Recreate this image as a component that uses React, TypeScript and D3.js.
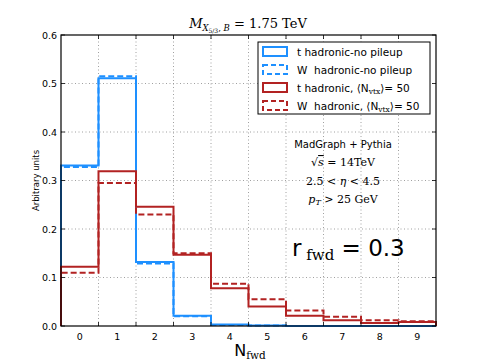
import React, { useEffect, useRef } from "react";
import * as d3 from "d3";

// bins 0..9 (N_fwd)
const bins = [0, 1, 2, 3, 4, 5, 6, 7, 8, 9];
const tNoPileup = [0.331, 0.511, 0.132, 0.021, 0.003, 0.001, 0.0, 0.0, 0.0, 0.0];
const wNoPileup = [0.328, 0.515, 0.129, 0.02, 0.002, 0.001, 0.0, 0.0, 0.0, 0.0];
const tPileup = [0.122, 0.319, 0.246, 0.147, 0.078, 0.04, 0.021, 0.012, 0.006, 0.008];
const wPileup = [0.11, 0.295, 0.23, 0.15, 0.087, 0.055, 0.032, 0.019, 0.012, 0.01];
const yTicks = [0.0, 0.1, 0.2, 0.3, 0.4, 0.5, 0.6];
const legendLabels = [
  "t hadronic-no pileup",
  "W\u00A0 hadronic-no pileup",
  "t hadronic, ",
  "W\u00A0 hadronic, ",
];

const BLUE = "#1e90ff";
const RED = "#b22222";

const App = () => {
  const ref = useRef<SVGSVGElement | null>(null);
  const width = 485;
  const height = 363;
  const margin = { top: 35, right: 49, bottom: 37, left: 61 };

  useEffect(() => {
    drawGraph();
  });

  const drawGraph = () => {
    const svg = d3.select(ref.current);
    svg.selectAll("*").remove();

    const x = d3.scaleLinear()
      .domain([-0.5, 9.5])
      .range([margin.left, width - margin.right]);
    const y = d3.scaleLinear()
      .domain([0, 0.6])
      .range([height - margin.bottom, margin.top]);

    const font = "'DejaVu Sans', sans-serif";
    const serif = "'DejaVu Serif', serif";

    // grid
    const grid = svg.append("g");
    bins.slice(0, -1).forEach(b => {
      grid.append("line")
        .attr("x1", x(b + 0.5)).attr("x2", x(b + 0.5))
        .attr("y1", y(0)).attr("y2", y(0.6))
        .attr("stroke", "#888").attr("stroke-width", 0.8)
        .attr("stroke-dasharray", "1,2.5");
    });
    yTicks.slice(1, -1).forEach(t => {
      grid.append("line")
        .attr("x1", x(-0.5)).attr("x2", x(9.5))
        .attr("y1", y(t)).attr("y2", y(t))
        .attr("stroke", "#888").attr("stroke-width", 0.8)
        .attr("stroke-dasharray", "1,2.5");
    });

    // step histograms
    const line = d3.line<[number, number]>()
      .x(d => x(d[0]))
      .y(d => y(d[1]));
    const stepPoints = (vals: number[]) => {
      const pts: [number, number][] = [[-0.5, 0]];
      vals.forEach((v, i) => {
        pts.push([bins[i] - 0.5, v]);
        pts.push([bins[i] + 0.5, v]);
      });
      pts.push([9.5, 0]);
      return pts;
    };
    const series = [
      { vals: tNoPileup, color: BLUE, dash: null },
      { vals: wNoPileup, color: BLUE, dash: "6,3" },
      { vals: tPileup, color: RED, dash: null },
      { vals: wPileup, color: RED, dash: "6,3" },
    ];
    series.forEach(s => {
      svg.append("path")
        .attr("d", line(stepPoints(s.vals)))
        .attr("fill", "none")
        .attr("stroke", s.color)
        .attr("stroke-width", 2)
        .attr("stroke-dasharray", s.dash);
    });

    // frame
    svg.append("rect")
      .attr("x", x(-0.5)).attr("y", y(0.6))
      .attr("width", x(9.5) - x(-0.5))
      .attr("height", y(0) - y(0.6))
      .attr("fill", "none").attr("stroke", "black").attr("stroke-width", 1.2);

    // ticks
    const ticks = svg.append("g").attr("stroke", "black").attr("stroke-width", 0.8);
    yTicks.forEach(t => {
      ticks.append("line").attr("x1", x(-0.5)).attr("x2", x(-0.5) + 4).attr("y1", y(t)).attr("y2", y(t));
      ticks.append("line").attr("x1", x(9.5)).attr("x2", x(9.5) - 4).attr("y1", y(t)).attr("y2", y(t));
    });
    bins.slice(0, -1).forEach(b => {
      ticks.append("line").attr("x1", x(b + 0.5)).attr("x2", x(b + 0.5)).attr("y1", y(0)).attr("y2", y(0) - 4);
      ticks.append("line").attr("x1", x(b + 0.5)).attr("x2", x(b + 0.5)).attr("y1", y(0.6)).attr("y2", y(0.6) + 4);
    });

    // tick labels
    yTicks.forEach(t => {
      svg.append("text")
        .attr("x", x(-0.5) - 4).attr("y", y(t) + 3.5)
        .attr("text-anchor", "end")
        .attr("font-family", font).attr("font-size", 9.5)
        .text(t.toFixed(1));
    });
    bins.forEach(b => {
      svg.append("text")
        .attr("x", x(b)).attr("y", y(0) + 14)
        .attr("text-anchor", "middle")
        .attr("font-family", font).attr("font-size", 9.5)
        .text(b);
    });

    // axis labels
    svg.append("text")
      .attr("transform", `translate(39,${(y(0) + y(0.6)) / 2}) rotate(-90)`)
      .attr("text-anchor", "middle")
      .attr("font-family", font).attr("font-size", 8.5)
      .text("Arbitrary units");

    const xl = svg.append("text")
      .attr("x", 250).attr("y", 356)
      .attr("text-anchor", "middle");
    xl.append("tspan").attr("font-family", font).attr("font-size", 16).text("N");
    xl.append("tspan").attr("font-family", serif).attr("font-size", 10.5).attr("dy", 3).text("fwd");

    // title
    const title = svg.append("text")
      .attr("x", 248).attr("y", 28)
      .attr("text-anchor", "middle")
      .attr("font-family", serif).attr("font-size", 13);
    title.append("tspan").attr("font-style", "italic").text("M");
    title.append("tspan").attr("font-size", 8.5).attr("dy", 3).attr("font-style", "italic").text("X");
    title.append("tspan").attr("font-size", 6).attr("dy", 2).text("5/3");
    title.append("tspan").attr("font-size", 8.5).attr("dy", -2).text(",\u00A0");
    title.append("tspan").attr("font-size", 8.5).attr("font-style", "italic").text("B");
    title.append("tspan").attr("dy", -3).text("\u00A0= 1.75 TeV");

    // legend
    const lg = svg.append("g");
    lg.append("rect")
      .attr("x", 258).attr("y", 42).attr("width", 172).attr("height", 72)
      .attr("fill", "white").attr("stroke", "black").attr("stroke-width", 1);
    series.forEach((s, i) => {
      const yy = 51.5 + i * 18;
      lg.append("rect")
        .attr("x", 263).attr("y", yy - 4.5).attr("width", 24).attr("height", 9)
        .attr("fill", "none").attr("stroke", s.color).attr("stroke-width", 2)
        .attr("stroke-dasharray", s.dash ? "5,3" : null);
      const t = lg.append("text")
        .attr("x", 297).attr("y", yy + 4)
        .attr("font-family", font).attr("font-size", 10.5)
        .text(legendLabels[i]);
      if (i >= 2) {
        t.append("tspan").text("\u27E8N");
        t.append("tspan").attr("font-family", serif).attr("font-size", 7.5).attr("dy", 2).text("vtx");
        t.append("tspan").attr("dy", -2).text("\u27E9= 50");
      }
    });

    // annotations
    const cx = 343;
    svg.append("text")
      .attr("x", cx).attr("y", 148).attr("text-anchor", "middle")
      .attr("font-family", font).attr("font-size", 10)
      .text("MadGraph + Pythia");
    const s1 = svg.append("text")
      .attr("x", cx).attr("y", 166).attr("text-anchor", "middle")
      .attr("font-family", serif).attr("font-size", 11);
    s1.append("tspan").text("\u221A");
    s1.append("tspan").attr("font-style", "italic").attr("text-decoration", "overline").text("s");
    s1.append("tspan").text("\u00A0= 14TeV");
    const s2 = svg.append("text")
      .attr("x", cx).attr("y", 185).attr("text-anchor", "middle")
      .attr("font-family", serif).attr("font-size", 11);
    s2.append("tspan").text("2.5 <\u00A0");
    s2.append("tspan").attr("font-style", "italic").text("\u03B7");
    s2.append("tspan").text("\u00A0< 4.5");
    const s3 = svg.append("text")
      .attr("x", cx).attr("y", 203).attr("text-anchor", "middle")
      .attr("font-family", serif).attr("font-size", 11);
    s3.append("tspan").attr("font-style", "italic").text("p");
    s3.append("tspan").attr("font-style", "italic").attr("font-size", 8).attr("dy", 2).text("T");
    s3.append("tspan").attr("dy", -2).text("\u00A0> 25 GeV");

    const r = svg.append("text")
      .attr("x", 292).attr("y", 256)
      .attr("font-family", font).attr("font-size", 23);
    r.append("tspan").text("r");
    r.append("tspan").attr("font-family", serif).attr("font-size", 15).attr("dy", 4).text("\u00A0fwd");
    r.append("tspan").attr("dy", -4).text("\u00A0= 0.3");
  };

  return (
    <svg ref={ref} width={width} height={height}
      style={{ position: "absolute", left: 0, top: 0, background: "white" }} />
  );
};

export default App;
